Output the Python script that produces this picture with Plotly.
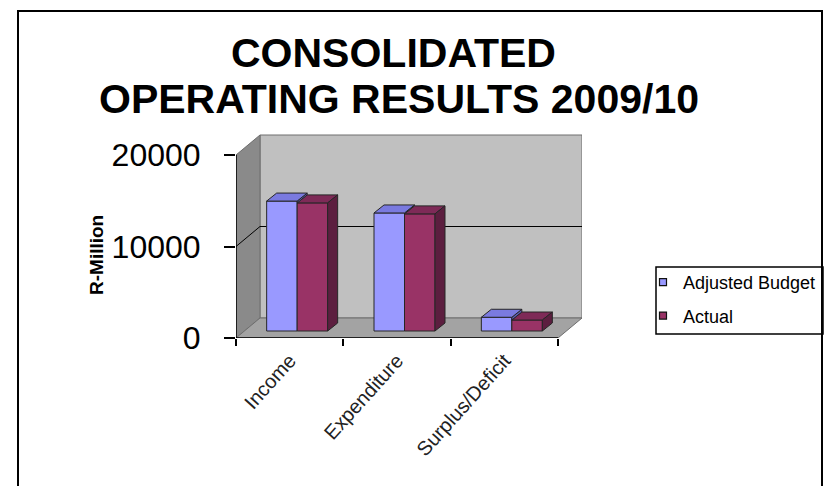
import plotly.graph_objects as go

# ---------------- data ----------------
categories = ["Income", "Expenditure", "Surplus/Deficit"]
series_names = ["Adjusted Budget", "Actual"]
adjusted_budget = [14200, 12900, 1500]
actual = [14000, 12800, 1200]
y_tick_values = [0, 10000, 20000]
y_tick_labels = ["0", "10000", "20000"]

# ---------------- layout constants (pixels / styling) ----------------
W, H = 825, 486
PL, PR, PT, PB = 236, 582, 134, 338          # plot-area pixel box
X_RANGE = [-0.5, 2.7236]
Y_RANGE = [0, 22295]
UX = (PR - PL) / (X_RANGE[1] - X_RANGE[0])   # px per x unit
UY = (PB - PT) / (Y_RANGE[1] - Y_RANGE[0])   # px per y unit

WALL_DX = 24 / UX
WALL_DY = 20 / UY
BAR_W = 30.5 / UX
BAR_SHIFT = 7.5 / UX
BAR_BASE = 7 / UY
BAR_DX = 10 / UX
BAR_DY = 8 / UY

FONT = "Liberation Sans, Arial, sans-serif"
EDGE = "#262626"
BLUE = dict(front="#9999FF", top="#7A7AE0", side="#5C5CB8")
RED = dict(front="#993366", top="#7E2A57", side="#5C1E3F")


def pxx(px):
    return (px - PL) / (PR - PL)


def pxy(py):
    return (PB - py) / (PB - PT)


fig = go.Figure()

offsets = [-BAR_W + BAR_SHIFT, BAR_SHIFT]
colors = [BLUE, RED]
values = [adjusted_budget, actual]
xs = list(range(len(categories)))

# front faces: real bars
for name, vals, off, col in zip(series_names, values, offsets, colors):
    fig.add_trace(go.Bar(
        x=xs, y=vals, base=BAR_BASE, width=BAR_W, offset=off, name=name,
        marker=dict(color=col["front"], line=dict(color=EDGE, width=1)),
        showlegend=False, legendgroup=name,
    ))


def faces(vals, off, clip=None):
    tx, ty, sx, sy = [], [], [], []
    for i, v in enumerate(vals):
        x0 = i + off
        x1 = x0 + BAR_W
        top = BAR_BASE + v
        tx += [x0, x1, x1 + BAR_DX, x0 + BAR_DX, x0, None]
        ty += [top, top, top + BAR_DY, top + BAR_DY, top, None]
        lo = BAR_BASE if clip is None else BAR_BASE + clip[i]
        if lo < top:
            sx += [x1, x1, x1 + BAR_DX, x1 + BAR_DX, x1, None]
            sy += [lo, top, top + BAR_DY, lo + BAR_DY, lo, None]
    return (tx, ty), (sx, sy)


(btx, bty), (bsx, bsy) = faces(adjusted_budget, offsets[0], clip=actual)
(rtx, rty), (rsx, rsy) = faces(actual, offsets[1])


def poly(x, y, color):
    return go.Scatter(x=x, y=y, mode="lines", fill="toself", fillcolor=color,
                      line=dict(color=EDGE, width=1), hoverinfo="skip",
                      showlegend=False)


fig.add_trace(poly(rtx, rty, RED["top"]))
fig.add_trace(poly(rsx, rsy, RED["side"]))
fig.add_trace(poly(bsx, bsy, BLUE["side"]))
fig.add_trace(poly(btx, bty, BLUE["top"]))

# legend entries
for name, col in zip(series_names, colors):
    fig.add_trace(go.Scatter(
        x=[None], y=[None], mode="markers", name=name, legendgroup=name,
        marker=dict(symbol="square", size=7, color=col["front"],
                    line=dict(color="#111", width=1.2)),
    ))

x_lo, x_hi = -0.5, len(categories) - 0.5
y_top = y_tick_values[-1]
shapes = [
    # back wall
    dict(type="rect", xref="x", yref="y", layer="below",
         x0=x_lo + WALL_DX, x1=x_hi + WALL_DX, y0=WALL_DY, y1=y_top + WALL_DY,
         fillcolor="#C0C0C0", line=dict(color="#6E6E6E", width=1)),
    # left wall
    dict(type="path", xref="x", yref="y", layer="below",
         path=f"M{x_lo},0 L{x_lo},{y_top} L{x_lo + WALL_DX},{y_top + WALL_DY} "
              f"L{x_lo + WALL_DX},{WALL_DY} Z",
         fillcolor="#8A8A8A", line=dict(color="#6E6E6E", width=1)),
    # floor
    dict(type="path", xref="x", yref="y", layer="below",
         path=f"M{x_lo},0 L{x_hi},0 L{x_hi + WALL_DX},{WALL_DY} "
              f"L{x_lo + WALL_DX},{WALL_DY} Z",
         fillcolor="#A3A3A3", line=dict(color="#6E6E6E", width=1)),
    # gridline at 10000 (back wall + left wall)
    dict(type="line", xref="x", yref="y", layer="below",
         x0=x_lo + WALL_DX, x1=x_hi + WALL_DX,
         y0=y_tick_values[1] + WALL_DY, y1=y_tick_values[1] + WALL_DY,
         line=dict(color="#000", width=1)),
    dict(type="line", xref="x", yref="y", layer="below",
         x0=x_lo, x1=x_lo + WALL_DX,
         y0=y_tick_values[1], y1=y_tick_values[1] + WALL_DY,
         line=dict(color="#000", width=1)),
    # front axes
    dict(type="line", xref="x", yref="y", x0=x_lo, x1=x_hi, y0=0, y1=0,
         line=dict(color="#000", width=1.5)),
    dict(type="line", xref="x", yref="y", x0=x_lo, x1=x_lo, y0=0, y1=y_top,
         line=dict(color="#000", width=1.5)),
    # legend frame
    dict(type="rect", xref="paper", yref="paper",
         x0=pxx(656), x1=pxx(823), y0=pxy(334), y1=pxy(267),
         line=dict(color="#000", width=1.5), fillcolor="rgba(0,0,0,0)"),
    # outer chart frame
    dict(type="rect", xref="paper", yref="paper",
         x0=pxx(18), x1=pxx(822), y0=pxy(520), y1=pxy(11),
         line=dict(color="#000", width=2), fillcolor="rgba(0,0,0,0)"),
]

annotations = [
    dict(text="<b>CONSOLIDATED</b>", xref="paper", yref="paper",
         x=pxx(393), y=pxy(53), xanchor="center", yanchor="middle",
         showarrow=False, font=dict(family=FONT, size=41, color="#000")),
    dict(text="<b>OPERATING RESULTS 2009/10</b>", xref="paper", yref="paper",
         x=pxx(399), y=pxy(99), xanchor="center", yanchor="middle",
         showarrow=False, font=dict(family=FONT, size=41, color="#000")),
    dict(text="<b>R-Million</b>", xref="paper", yref="paper",
         x=pxx(96), y=pxy(255), xanchor="center", yanchor="middle",
         textangle=-90, showarrow=False,
         font=dict(family=FONT, size=19, color="#000")),
]

fig.update_layout(
    width=W, height=H, autosize=False,
    margin=dict(l=PL, r=W - PR, t=PT, b=H - PB, pad=0, autoexpand=False),
    paper_bgcolor="white", plot_bgcolor="rgba(0,0,0,0)",
    barmode="overlay",
    shapes=shapes, annotations=annotations,
    legend=dict(x=pxx(643), y=pxy(264), xanchor="left", yanchor="top",
                bgcolor="rgba(0,0,0,0)", borderwidth=0,
                traceorder="grouped", tracegroupgap=7,
                font=dict(family=FONT, size=18, color="#000")),
    xaxis=dict(range=X_RANGE, tickvals=xs, ticktext=categories,
               tickangle=-48, ticks="", showgrid=False, zeroline=False,
               showline=False, ticklabelstandoff=6,
               tickfont=dict(family=FONT, size=20, color="#222"),
               minor=dict(tickvals=[x_lo + k for k in range(len(categories) + 1)],
                          ticks="outside", ticklen=7, tickcolor="#000",
                          tickwidth=1.5, showgrid=False)),
    yaxis=dict(range=Y_RANGE, tickvals=y_tick_values, ticktext=y_tick_labels,
               ticks="outside", ticklen=11, tickcolor="#000", tickwidth=1.5,
               ticklabelstandoff=17, showgrid=False, zeroline=False,
               showline=False, tickfont=dict(family=FONT, size=32, color="#000")),
    showlegend=True,
)

fig.write_html("out.html")
